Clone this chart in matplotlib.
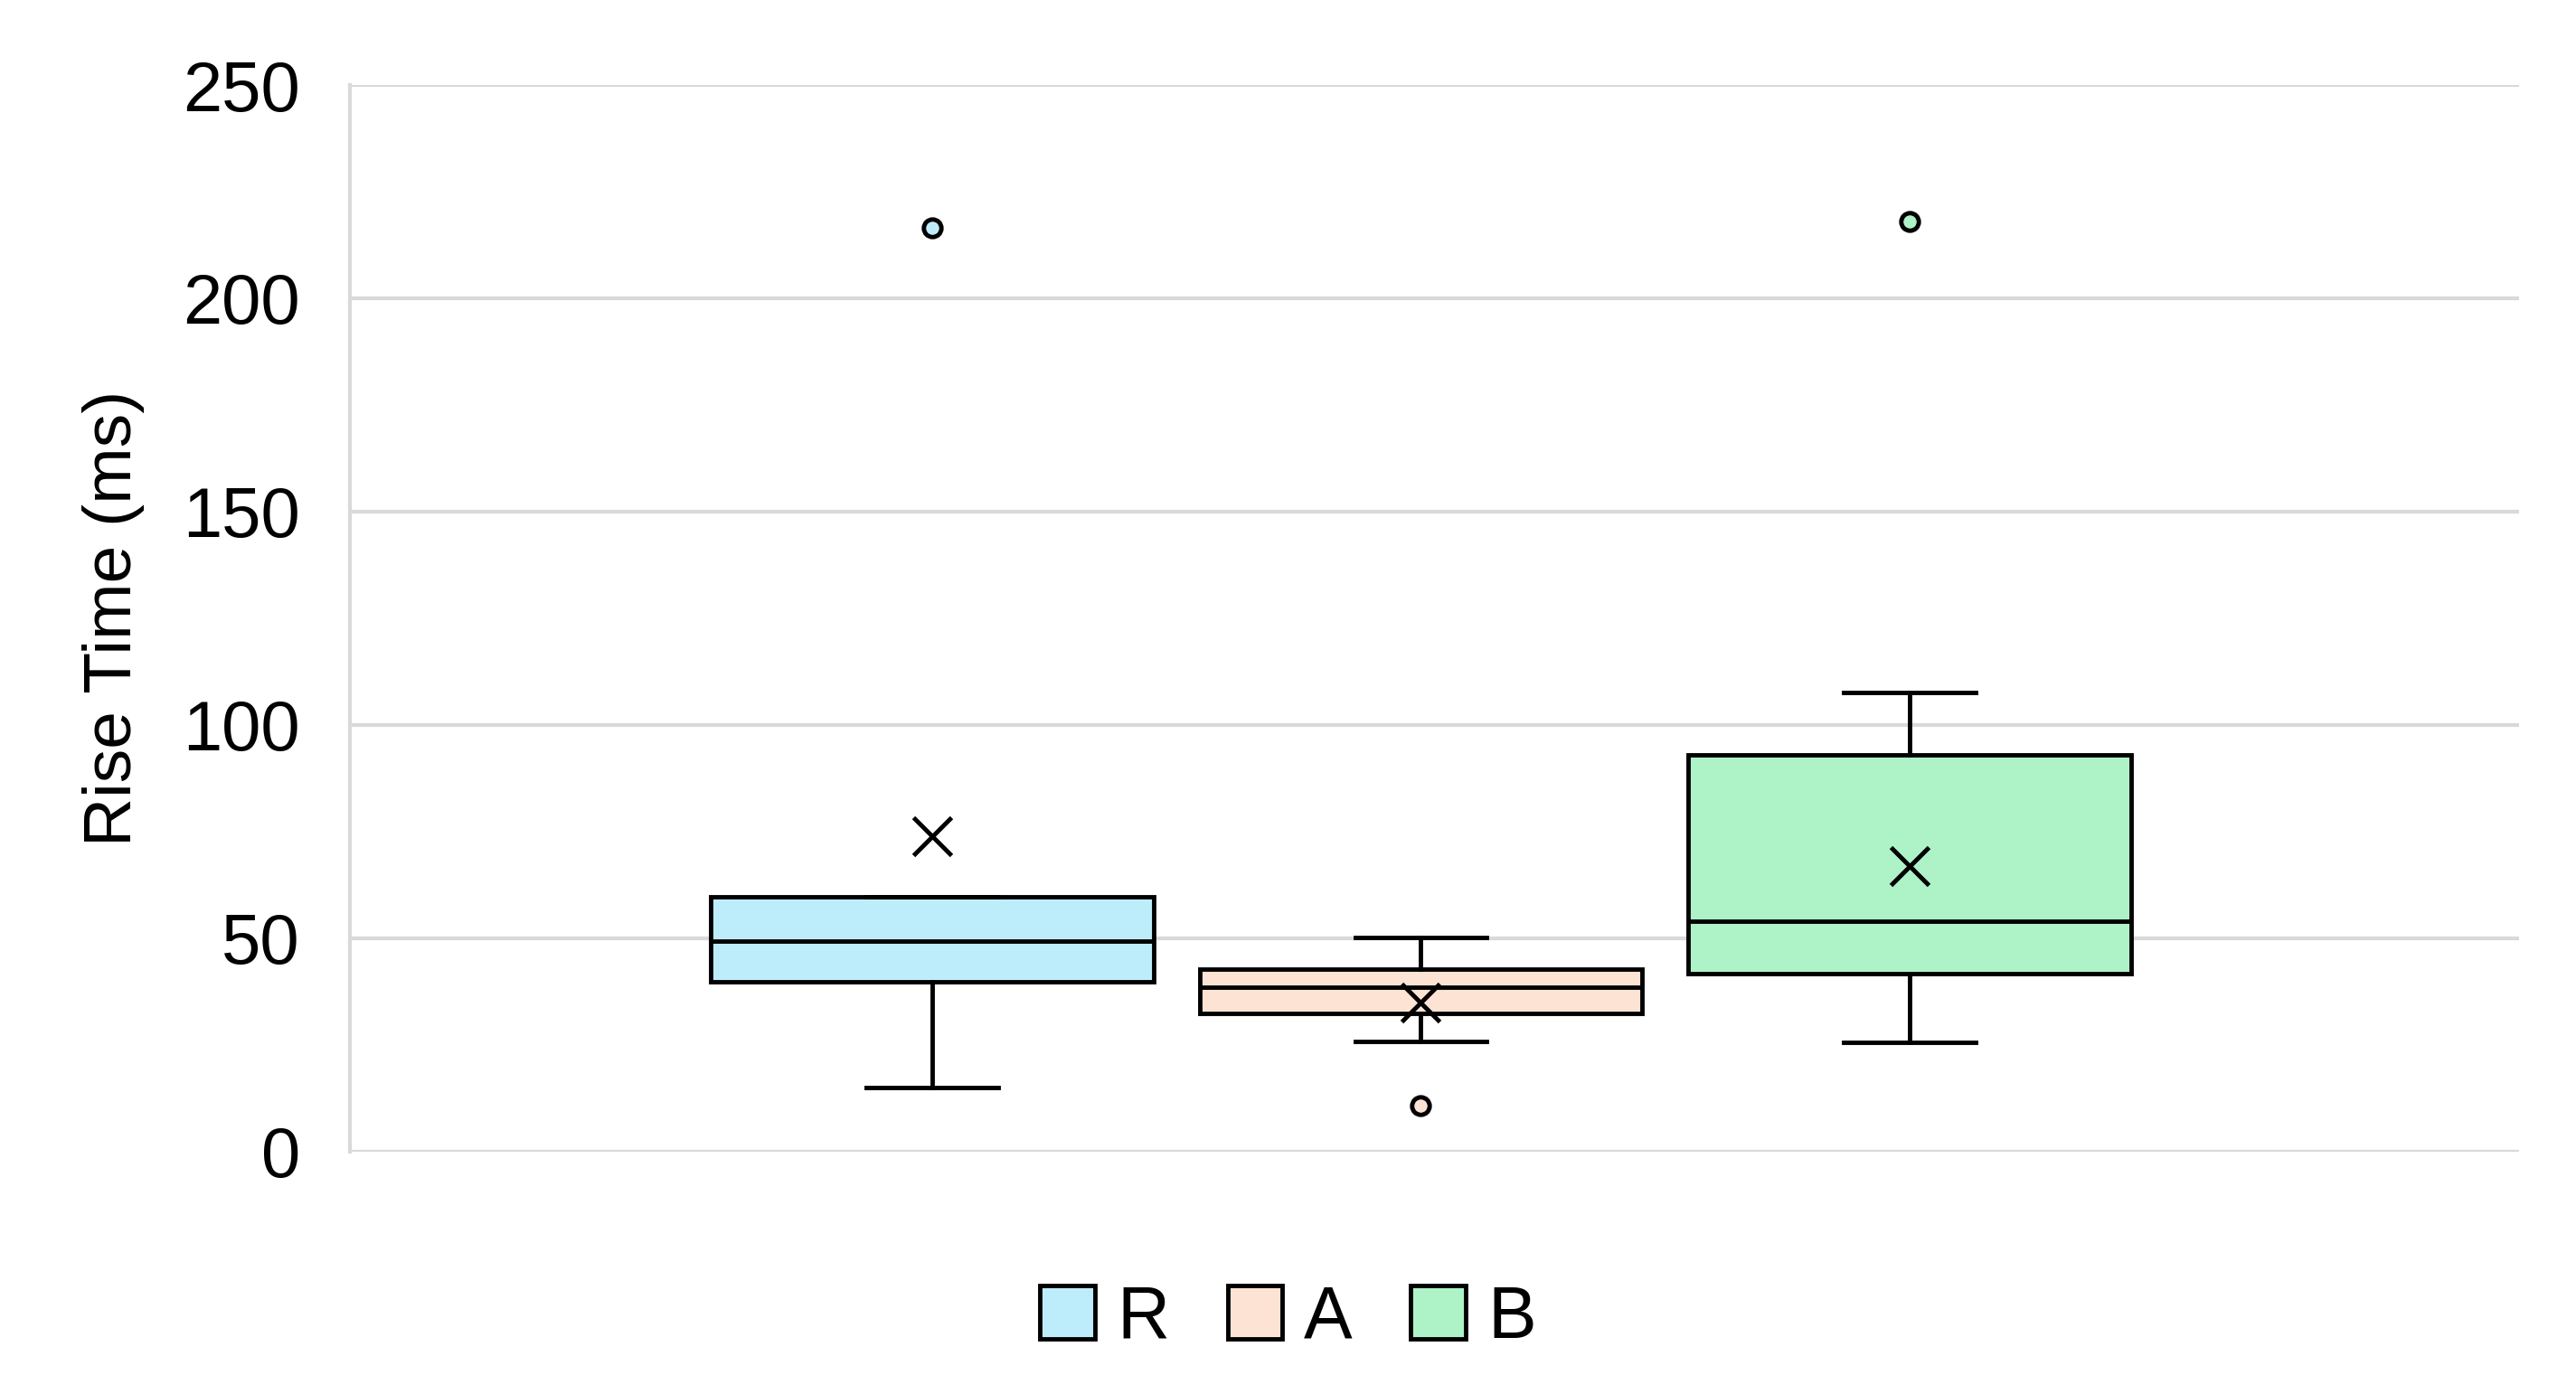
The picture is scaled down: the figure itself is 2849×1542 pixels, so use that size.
import matplotlib.pyplot as plt
from matplotlib.patches import Patch

plt.rcParams['font.family'] = ['Liberation Sans', 'DejaVu Sans']

groups = ['R', 'A', 'B']
whislo = [15, 25.8, 25.5]
q1 = [39.7, 32.4, 41.7]
med = [49.4, 38.6, 54.0]
q3 = [59.8, 42.8, 93.0]
whishi = [59.8, 50.2, 107.6]
means = [74, 35, 67]
fliers = [[216.5], [10.8], [218]]
colors = ['#BDEDFA', '#FCE3D3', '#AEF2C8']

stats = []
for i, g in enumerate(groups):
    stats.append(dict(label=g, whislo=whislo[i], q1=q1[i], med=med[i], q3=q3[i],
                      whishi=whishi[i], mean=means[i], fliers=fliers[i]))

fig = plt.figure(figsize=(28.49, 15.42), dpi=100)
ax = fig.add_axes([0.136, 0.174, 0.842, 0.765])

pos = [1, 2, 3]
lw = 3.5
bp = ax.bxp(stats, positions=pos, widths=0.906, patch_artist=True, showmeans=True,
            whiskerprops=dict(color='black', lw=lw),
            capprops=dict(color='black', lw=lw),
            medianprops=dict(color='black', lw=lw),
            boxprops=dict(edgecolor='black', lw=lw),
            meanprops=dict(marker='x', markeredgecolor='black', markersize=30, markeredgewidth=3.5),
            capwidths=0.27)
for b, c in zip(bp['boxes'], colors):
    b.set_facecolor(c)
for f, c in zip(bp['fliers'], colors):
    f.set(marker='o', markerfacecolor=c, markeredgecolor='black', markersize=14, markeredgewidth=3.5)

ax.set_xlim(-0.191, 4.248)
ax.set_ylim(0, 250)
ax.set_yticks([0, 50, 100, 150, 200, 250])
ax.set_xticks([])
ax.tick_params(axis='y', labelsize=56, length=0, pad=40)
ax.yaxis.grid(True, color='#d9d9d9', lw=3)
ax.set_axisbelow(True)
for s in ['top', 'right', 'bottom']:
    ax.spines[s].set_visible(False)
ax.spines['left'].set_color('#d9d9d9')
ax.spines['left'].set_linewidth(3)
ax.set_ylabel('Rise Time (ms)', fontsize=54, labelpad=30)

handles = [Patch(facecolor=c, edgecolor='black', lw=lw) for c in colors]
fig.legend(handles, groups, loc='center', bbox_to_anchor=(0.5, 0.054), ncol=3, frameon=False,
           fontsize=58, handlelength=0.75, handleheight=0.75, handletextpad=0.3, columnspacing=0.8)

fig.savefig('out.png', dpi=100)
